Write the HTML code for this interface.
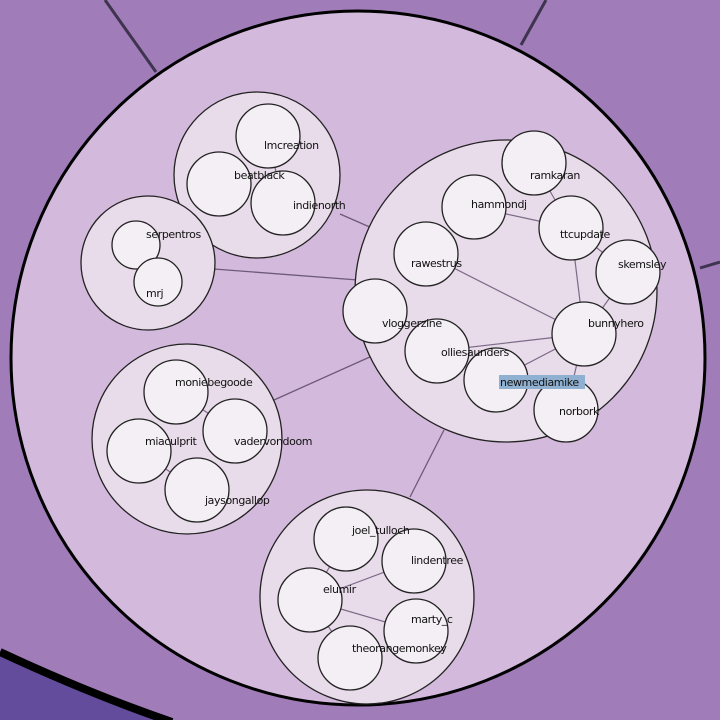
<!DOCTYPE html>
<html><head><meta charset="utf-8"><style>
html,body{margin:0;padding:0;background:#a07cb8;}
svg{display:block;}
text{font-family:"DejaVu Sans","Liberation Sans",sans-serif;font-size:11px;fill:#111;letter-spacing:-0.4px;}
</style></head><body>
<svg width="720" height="720" viewBox="0 0 720 720" xmlns="http://www.w3.org/2000/svg">
<rect width="720" height="720" fill="#a07cb8"/>
<path d="M0,654 Q90,694 170,720 L0,720 Z" fill="#634c9c"/>
<path d="M0,652 Q90,694 172,722" fill="none" stroke="#000" stroke-width="8"/>
<line x1="105" y1="0" x2="156" y2="72" stroke="#3f3450" stroke-width="3"/>
<line x1="546" y1="0" x2="521" y2="45" stroke="#3f3450" stroke-width="3"/>
<line x1="700" y1="268" x2="720" y2="262" stroke="#3f3450" stroke-width="3"/>
<circle cx="358" cy="358" r="347" fill="#d3b9db" stroke="#000" stroke-width="3"/>
<g stroke="#6d5a78" stroke-width="1.3">
<line x1="340" y1="214" x2="372" y2="228"/>
<line x1="214" y1="269" x2="358" y2="280"/>
<line x1="274" y1="400" x2="372" y2="356"/>
<line x1="410" y1="497" x2="444" y2="430"/>
</g>
<g fill="#e8dbea" stroke="#222" stroke-width="1.3">
<ellipse cx="257" cy="175" rx="83" ry="83"/>
<circle cx="506" cy="291" r="151"/>
<circle cx="148" cy="263" r="67"/>
<circle cx="187" cy="439" r="95"/>
<circle cx="367" cy="597" r="107"/>
</g>
<g stroke="#7d6a88" stroke-width="1.2">
<line x1="534" y1="163" x2="571" y2="228"/>
<line x1="474" y1="207" x2="571" y2="228"/>
<line x1="571" y1="228" x2="628" y2="272"/>
<line x1="571" y1="228" x2="584" y2="334"/>
<line x1="628" y1="272" x2="584" y2="334"/>
<line x1="426" y1="254" x2="584" y2="334"/>
<line x1="437" y1="351" x2="584" y2="334"/>
<line x1="496" y1="380" x2="584" y2="334"/>
<line x1="584" y1="334" x2="566" y2="410"/>
<line x1="346" y1="539" x2="310" y2="600"/>
<line x1="414" y1="561" x2="310" y2="600"/>
<line x1="416" y1="631" x2="310" y2="600"/>
<line x1="350" y1="658" x2="310" y2="600"/>
<line x1="176" y1="392" x2="235" y2="431"/>
<line x1="139" y1="451" x2="197" y2="490"/>
<line x1="268" y1="136" x2="283" y2="203"/>
</g>
<g fill="#f4eef5" stroke="#222" stroke-width="1.3">
<circle cx="268" cy="136" r="32"/>
<circle cx="219" cy="184" r="32"/>
<circle cx="283" cy="203" r="32"/>
<circle cx="136" cy="245" r="24"/>
<circle cx="158" cy="282" r="24"/>
<circle cx="176" cy="392" r="32"/>
<circle cx="235" cy="431" r="32"/>
<circle cx="139" cy="451" r="32"/>
<circle cx="197" cy="490" r="32"/>
<circle cx="534" cy="163" r="32"/>
<circle cx="474" cy="207" r="32"/>
<circle cx="571" cy="228" r="32"/>
<circle cx="628" cy="272" r="32"/>
<circle cx="426" cy="254" r="32"/>
<circle cx="375" cy="311" r="32"/>
<circle cx="584" cy="334" r="32"/>
<circle cx="437" cy="351" r="32"/>
<circle cx="496" cy="380" r="32"/>
<circle cx="566" cy="410" r="32"/>
<circle cx="346" cy="539" r="32"/>
<circle cx="414" cy="561" r="32"/>
<circle cx="310" cy="600" r="32"/>
<circle cx="416" cy="631" r="32"/>
<circle cx="350" cy="658" r="32"/>
</g>
<rect x="499" y="375" width="86" height="14" fill="#8fb0d0"/>
<text x="264" y="149">lmcreation</text>
<text x="234" y="179">beatblack</text>
<text x="293" y="209">indienorth</text>
<text x="146" y="238">serpentros</text>
<text x="146" y="297">mrj</text>
<text x="175" y="386">moniebegoode</text>
<text x="234" y="445">vadervondoom</text>
<text x="145" y="445">miaculprit</text>
<text x="205" y="504">jaysongallop</text>
<text x="530" y="179">ramkaran</text>
<text x="471" y="208">hammondj</text>
<text x="560" y="238">ttcupdate</text>
<text x="618" y="268">skemsley</text>
<text x="411" y="267">rawestrus</text>
<text x="382" y="327">vloggerzine</text>
<text x="588" y="327">bunnyhero</text>
<text x="441" y="356">olliesaunders</text>
<text x="500" y="386">newmediamike</text>
<text x="559" y="415">norbork</text>
<text x="352" y="534">joel_tulloch</text>
<text x="411" y="564">lindentree</text>
<text x="323" y="593">elumir</text>
<text x="411" y="623">marty_c</text>
<text x="352" y="652">theorangemonkey</text>
</svg>
</body></html>
